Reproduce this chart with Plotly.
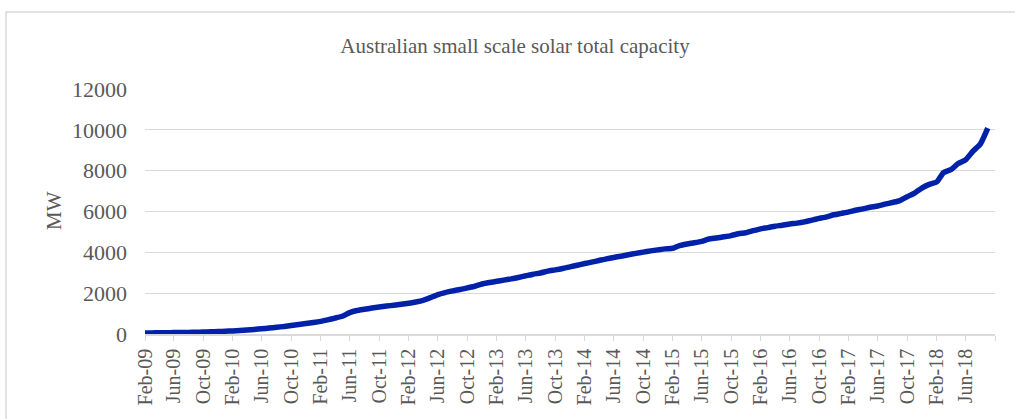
import pandas as pd
import plotly.graph_objects as go

# Monthly data, Feb-2009 .. Sep-2018
start_month = "2009-02-01"
capacity_mw = [
    50, 55, 58, 62, 68, 72, 78, 85, 95, 105, 120, 135,
    150, 170, 195, 225, 255, 290, 330, 370, 420, 465, 510, 560,
    620, 690, 780, 870, 1050, 1150, 1210, 1270, 1320, 1370, 1410, 1460,
    1510, 1570, 1650, 1780, 1930, 2030, 2110, 2180, 2260, 2340, 2450, 2520,
    2580, 2640, 2700, 2770, 2850, 2930, 2990, 3080, 3140, 3210, 3290, 3370,
    3450, 3520, 3600, 3680, 3750, 3810, 3880, 3950, 4010, 4070, 4120, 4170,
    4200, 4330, 4410, 4470, 4540, 4650, 4700, 4760, 4820, 4910, 4960, 5060,
    5150, 5210, 5280, 5330, 5390, 5430, 5490, 5580, 5660, 5740, 5840, 5910,
    5980, 6060, 6130, 6210, 6270, 6360, 6440, 6530, 6720, 6900, 7150, 7330,
    7450, 7900, 8050, 8350, 8530, 8950, 9300, 10080,
]
months = pd.date_range(start_month, periods=len(capacity_mw), freq="MS")

tick_dates = pd.date_range("2009-02-01", "2018-10-01", freq="4MS")
tick_labels = [
    "Feb-09", "Jun-09", "Oct-09", "Feb-10", "Jun-10", "Oct-10", "Feb-11", "Jun-11",
    "Oct-11", "Feb-12", "Jun-12", "Oct-12", "Feb-13", "Jun-13", "Oct-13", "Feb-14",
    "Jun-14", "Oct-14", "Feb-15", "Jun-15", "Oct-15", "Feb-16", "Jun-16", "Oct-16",
    "Feb-17", "Jun-17", "Oct-17", "Feb-18", "Jun-18", "",
]
y_ticks = [0, 2000, 4000, 6000, 8000, 10000, 12000]

title_text = "Australian small scale solar total capacity"
y_title = "MW"

FONT = "Liberation Serif, Times New Roman, serif"
GRAY = "#595959"
GRID = "#d9d9d9"

fig = go.Figure()
fig.add_trace(go.Scatter(
    x=months, y=capacity_mw, mode="lines",
    line=dict(color="#0021a8", width=5.5, shape="spline", smoothing=0.5),
    hoverinfo="x+y", showlegend=False,
))

W, H = 1015, 419
L, R, T, B = 145, 20, 89, 85
pw, ph = W - L - R, H - T - B

def px_x(px):
    return (px - L) / pw

def px_y(py):
    return (H - B - py) / ph

fig.update_layout(
    width=W, height=H,
    margin=dict(l=L, r=R, t=T, b=B),
    paper_bgcolor="white", plot_bgcolor="white",
    font=dict(family=FONT, color=GRAY, size=20),
    title=dict(text=title_text, xref="container", yref="container",
               x=515 / W, y=1 - 46 / H, xanchor="center", yanchor="middle",
               font=dict(family=FONT, color=GRAY, size=21)),
    xaxis=dict(
        type="date",
        range=[months[0], tick_dates[-1]],
        tickmode="array", tickvals=list(tick_dates), ticktext=tick_labels,
        tickangle=-90, ticks="outside", ticklen=5, tickcolor=GRID, tickwidth=1,
        showline=True, linecolor=GRID, linewidth=1.5,
        showgrid=False, zeroline=False,
        tickfont=dict(family=FONT, color=GRAY, size=20),
    ),
    yaxis=dict(
        range=[0, 12000], tickmode="array", tickvals=y_ticks,
        ticktext=[str(v) for v in y_ticks],
        showgrid=True, gridcolor=GRID, gridwidth=1,
        zeroline=False, showline=False, ticks="",
        ticklabelstandoff=17,
        tickfont=dict(family=FONT, color=GRAY, size=22),
    ),
    shapes=[dict(type="rect", xref="paper", yref="paper",
                 x0=px_x(6), x1=px_x(1030), y0=px_y(440), y1=px_y(12),
                 line=dict(color=GRID, width=1.5), fillcolor="rgba(0,0,0,0)",
                 layer="below")],
    annotations=[dict(text=y_title, xref="paper", yref="paper",
                      x=px_x(54), y=px_y(211), textangle=-90, showarrow=False,
                      xanchor="center", yanchor="middle",
                      font=dict(family=FONT, color=GRAY, size=21))],
)

fig.write_html("out.html",
               config={"displayModeBar": False},
               post_script="document.body.style.margin='0';document.body.style.overflow='hidden';")
